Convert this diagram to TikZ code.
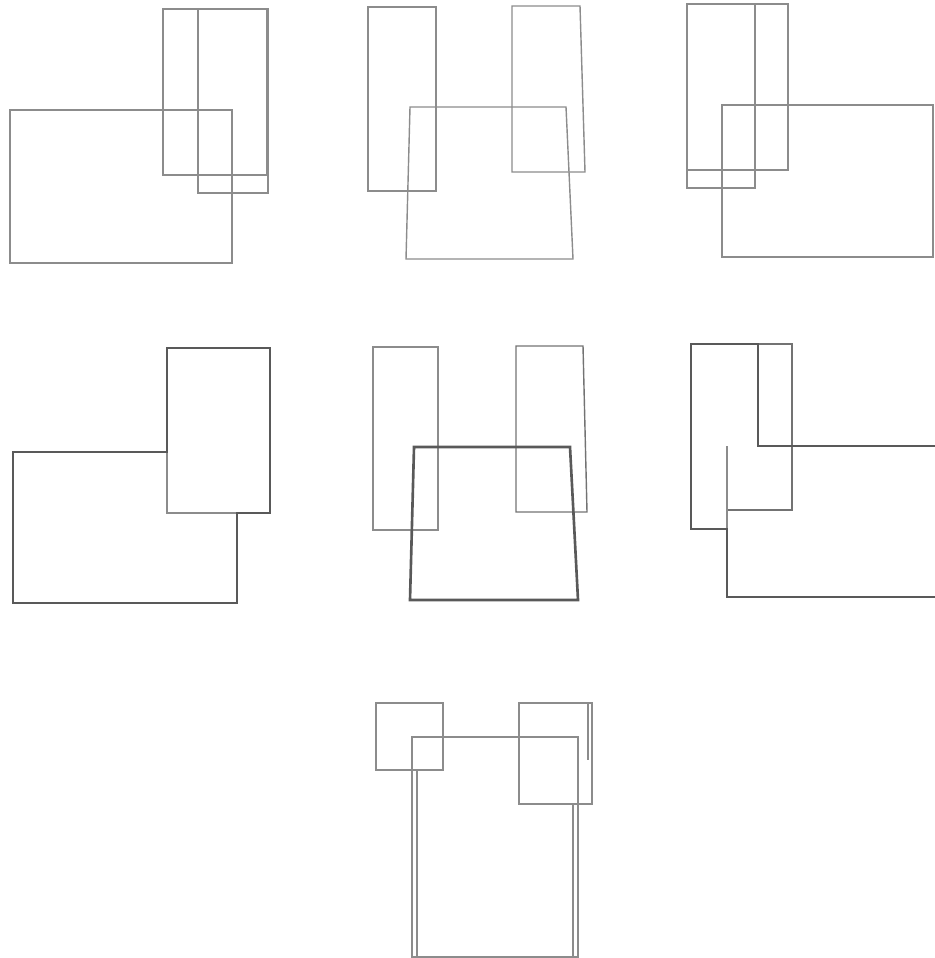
\documentclass[tikz,border=0pt]{standalone}
\begin{document}
\begin{tikzpicture}[x=0.1mm, y=-0.1mm,
  ghost/.style={draw=black!45, line width=0.4pt},
  wall/.style={draw=black!65, line width=0.75pt, line join=miter}]
  \useasboundingbox (0,0) rectangle (935,958);
  % row 1: overlapping rectangles
  \draw[ghost] (163,9) rectangle (267,175);
  \draw[ghost] (198,9) rectangle (268,193);
  \draw[ghost] (10,110) rectangle (232,263);
  \draw[ghost] (368,7) rectangle (436,191);
  \draw[ghost] (512,6) -- (580,6) -- (585,172) -- (512,172) -- cycle;
  \draw[ghost] (410,107) -- (566,107) -- (573,259) -- (406,259) -- cycle;
  \draw[ghost] (687,4) rectangle (788,170);
  \draw[ghost] (687,4) rectangle (755,188);
  \draw[ghost] (722,105) rectangle (933,257);
  % row 2: outlines
  \draw[ghost] (167,452) -- (167,513) -- (237,513);
  \draw[wall] (167,348) -- (270,348) -- (270,513) -- (237,513) -- (237,603)
    -- (13,603) -- (13,452) -- (167,452) -- cycle;
  \draw[ghost] (373,347) rectangle (438,530);
  \draw[ghost, draw=black!55] (516,346) -- (583,346) -- (587,512) -- (516,512) -- cycle;
  \draw[wall] (414,447) -- (570,447) -- (578,600) -- (410,600) -- cycle;
  \draw[ghost, draw=black!55] (758,344) -- (792,344) -- (792,510) -- (727,510);
  \draw[ghost] (727,446) -- (727,529);
  \draw[wall] (935,446) -- (758,446) -- (758,344) -- (691,344) -- (691,529)
    -- (727,529) -- (727,597) -- (935,597);
  % row 3
  \draw[ghost] (376,703) rectangle (443,770);
  \draw[ghost] (519,703) rectangle (592,804);
  \draw[ghost] (588,703) -- (588,760);
  \draw[ghost] (412,737) rectangle (578,957);
  \draw[ghost] (417,770) -- (417,957);
  \draw[ghost] (573,804) -- (573,957);
\end{tikzpicture}
\end{document}
